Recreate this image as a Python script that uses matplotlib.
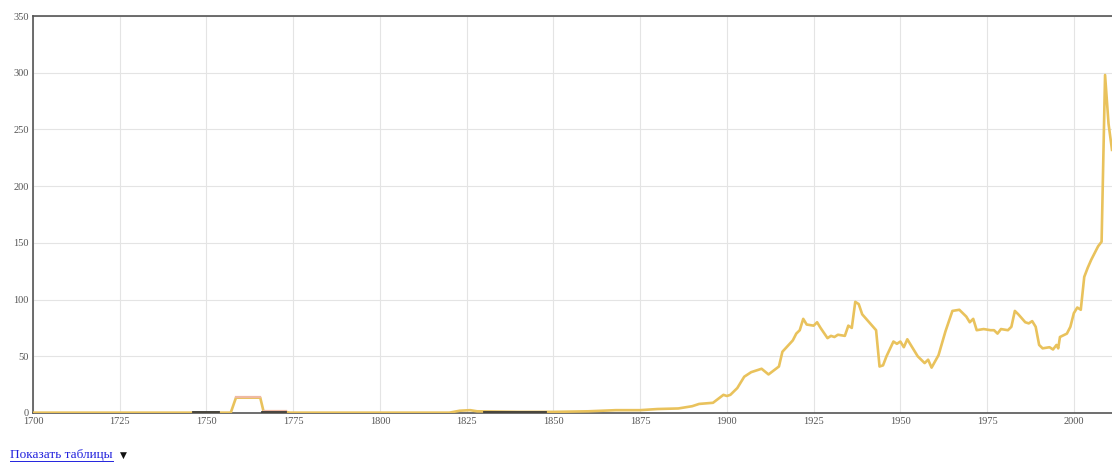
import numpy as np
import matplotlib.pyplot as plt

# main series (yellow), vertices
years = [1700, 1757, 1758.5, 1765.5, 1766.5, 1773, 1774, 1820, 1823, 1826, 1828,
         1840, 1850, 1860, 1868, 1875, 1880, 1886, 1888, 1890, 1892, 1896, 1899,
         1900, 1901, 1903, 1905, 1907, 1909, 1910, 1912, 1915, 1916, 1919, 1920,
         1921, 1922, 1923, 1925, 1926, 1927, 1929, 1930, 1931, 1932, 1934, 1935,
         1936, 1937, 1938, 1939, 1941, 1943, 1944, 1945, 1946, 1948, 1949, 1950,
         1951, 1952, 1955, 1957, 1958, 1959, 1961, 1963, 1965, 1967, 1969, 1970,
         1971, 1972, 1974, 1976, 1977, 1978, 1979, 1981, 1982, 1983, 1984, 1986,
         1987, 1988, 1989, 1990, 1991, 1993, 1994, 1995, 1995.5, 1996, 1998,
         1999, 2000, 2001, 2002, 2003, 2004, 2005, 2006, 2007, 2008, 2009, 2010,
         2011]
values = [0.3, 0.3, 13.5, 13.5, 0.8, 0.8, 0.3, 0.3, 2, 2.5, 1.5,
          1, 1, 1.5, 2.5, 2.5, 3.5, 4, 5, 6, 8, 9, 16,
          15, 16, 22, 32, 36, 38, 39, 34, 41, 54, 64, 70,
          73, 83, 78, 77, 80, 75, 66, 68, 67, 69, 68, 77,
          75, 98, 96, 87, 80, 73, 41, 42, 50, 63, 61, 63,
          58, 65, 50, 44, 47, 40, 51, 72, 90, 91, 85, 80,
          83, 73, 74, 73, 73, 70, 74, 73, 76, 90, 87, 80,
          79, 81, 76, 60, 57, 58, 56, 60, 57, 67, 70,
          76, 88, 93, 91, 120, 128, 135, 141, 147, 151, 298, 255,
          232]

# dark series near zero
dark_years = [1746, 1753.5, np.nan, 1766, 1773, np.nan, 1830, 1848]
dark_values = [1.2, 1.2, np.nan, 1.2, 1.2, np.nan, 0.8, 0.8]

# salmon series (short bump)
pink_years = [1758.5, 1765.5, np.nan, 1766.5, 1773]
pink_values = [14.5, 14.5, np.nan, 2.2, 2.2]

xticks = [1700, 1725, 1750, 1775, 1800, 1825, 1850, 1875, 1900, 1925, 1950, 1975, 2000]
yticks = [0, 50, 100, 150, 200, 250, 300, 350]

fig = plt.figure(figsize=(11.12, 4.70), dpi=100)
ax = fig.add_axes([33 / 1112, 1 - 413 / 470, 1 - 33 / 1112, (413 - 16) / 470])

ax.plot(years, values, color='#e9c25c', lw=1.9, zorder=3)
ax.plot(pink_years, pink_values, color='#efb9a2', lw=1.6, zorder=4)
ax.plot(dark_years, dark_values, color='#3a3a3a', lw=1.3, zorder=5)

ax.set_xlim(1700, 2011)
ax.set_ylim(0, 350)
ax.set_xticks(xticks)
ax.set_yticks(yticks)
ax.grid(True, color='#e4e4e4', lw=0.8)
ax.set_axisbelow(True)

for s in ['left', 'bottom', 'top']:
    ax.spines[s].set_color('#555555')
    ax.spines[s].set_linewidth(1.2)
ax.spines['right'].set_visible(False)

ax.tick_params(length=0, labelsize=7.5, labelcolor='#555555', pad=3)
for lab in ax.get_xticklabels() + ax.get_yticklabels():
    lab.set_family('Liberation Serif')

fig.text(10 / 1112, 1 - 455 / 470, 'Показать таблицы', color='#2222dd',
         fontsize=9.5, family='Liberation Serif', va='center')
fig.add_artist(plt.Line2D([10 / 1112, 113 / 1112], [1 - 461 / 470, 1 - 461 / 470],
                          color='#2222dd', lw=0.7))
fig.text(120 / 1112, 1 - 455 / 470, '▼', color='#111111', fontsize=6.5,
         family='DejaVu Sans', va='center')

fig.savefig('out.png', dpi=100)
